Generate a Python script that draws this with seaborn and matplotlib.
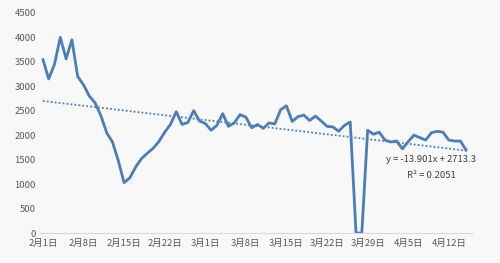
import matplotlib
matplotlib.use("Agg")
import matplotlib.pyplot as plt
import seaborn as sns
import numpy as np
import pandas as pd

values = [3550, 3150, 3450, 4000, 3560, 3950, 3200, 3030, 2800, 2660,
          2400, 2050, 1860, 1480, 1030, 1130, 1350, 1520, 1630, 1730,
          1870, 2060, 2220, 2480, 2220, 2260, 2500, 2290, 2240, 2100,
          2200, 2440, 2180, 2250, 2420, 2370, 2150, 2220, 2140, 2250,
          2230, 2520, 2600, 2280, 2380, 2410, 2300, 2390, 2290, 2180,
          2170, 2080, 2200, 2270, 0, 0, 2100, 2020, 2060, 1900,
          1860, 1880, 1720, 1870, 2000, 1950, 1900, 2050, 2080, 2060,
          1900, 1880, 1880, 1690]
tick_labels = ["2月1日", "2月8日", "2月15日", "2月22日", "3月1日", "3月8日",
               "3月15日", "3月22日", "3月29日", "4月5日", "4月12日"]
y_ticks = [0, 500, 1000, 1500, 2000, 2500, 3000, 3500, 4000, 4500]
trend_slope = -13.901
trend_intercept = 2713.3
equation_text = "y = -13.901x + 2713.3"
r2_text = "R² = 0.2051"

df = pd.DataFrame({"day": np.arange(len(values)), "value": values})
trend = pd.DataFrame({"day": df["day"],
                      "value": trend_intercept + trend_slope * (df["day"] + 1)})

sns.set_theme(style="white")
plt.rcParams['font.family'] = ['Noto Sans CJK SC', 'DejaVu Sans']

bg = "#f8f8f8"
color = "#4a7ebb"
fig = plt.figure(figsize=(5.0, 2.63), dpi=100, facecolor=bg)
ax = fig.add_axes([0.08, 0.114, 0.864, 0.837], facecolor=bg)

sns.lineplot(data=df, x="day", y="value", ax=ax, color=color, linewidth=2.0)
sns.lineplot(data=trend, x="day", y="value", ax=ax, color=color,
             linewidth=1.3, linestyle=(0, (1, 1.2)))

ax.set_xlim(-0.5, 74)
ax.set_ylim(0, 4500)
ax.set_xticks(np.arange(0, 7 * len(tick_labels), 7))
ax.set_xticklabels(tick_labels)
ax.set_yticks(y_ticks)
ax.set_yticklabels([str(v) for v in y_ticks])
ax.set_xlabel("")
ax.set_ylabel("")
for s in ["top", "right", "left"]:
    ax.spines[s].set_visible(False)
ax.spines["bottom"].set_color("#d9d9d9")
ax.spines["bottom"].set_linewidth(0.8)
ax.tick_params(axis="x", length=0, labelsize=6.8, colors="#595959", pad=4)
ax.tick_params(axis="y", length=0, labelsize=6.8, colors="#595959", pad=3)

ax.text(0.906, 0.332, equation_text, transform=ax.transAxes, fontsize=6.8,
        color="#404040", ha="center", va="center")
ax.text(0.906, 0.262, r2_text, transform=ax.transAxes, fontsize=6.8,
        color="#404040", ha="center", va="center")

fig.savefig("out.png", dpi=100, facecolor=bg)
